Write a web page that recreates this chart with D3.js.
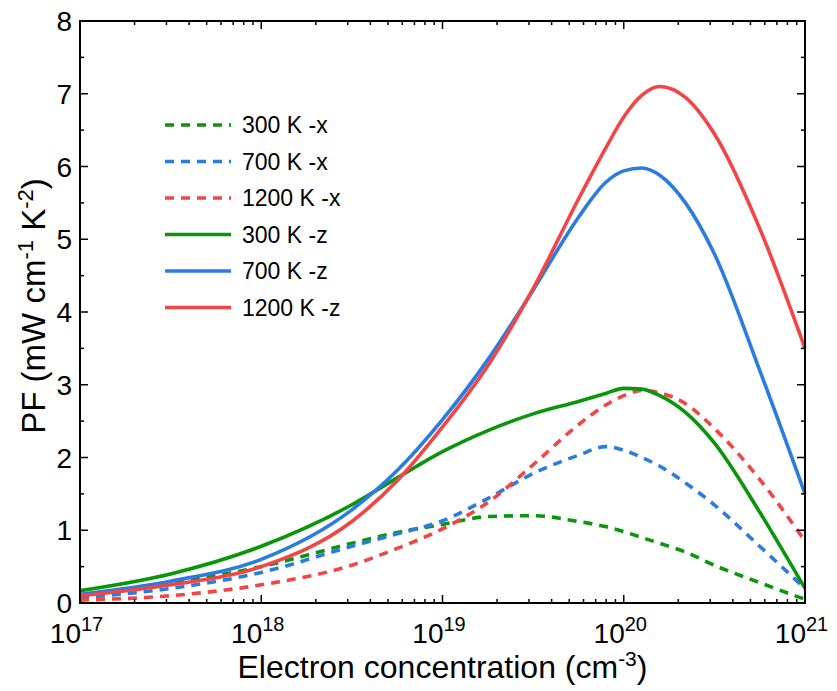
<!DOCTYPE html>
<html>
<head>
<meta charset="utf-8">
<script src="https://cdn.jsdelivr.net/npm/d3@7"></script>
<style>
  body { margin: 0; background: #fff; }
  text { font-family: "Liberation Sans", Arial, sans-serif; fill: #000; }
</style>
</head>
<body>
<div id="chart"></div>
<script>
// electron concentration (cm^-3)
var conc = [1e17, 3.16e17, 1e18, 3.16e18, 5.62e18, 1e19, 1.82e19, 3.16e19, 5.62e19,
            7.94e19, 1e20, 1.26e20, 1.58e20, 2.19e20, 3.16e20, 5.62e20, 1e21];

// PF (mW cm^-1 K^-2)
var pf300x  = [0.10, 0.27, 0.50, 0.82, 0.97, 1.08, 1.19, 1.20, 1.12, 1.05, 0.98, 0.90, 0.82, 0.70, 0.52, 0.28, 0.05];
var pf700x  = [0.07, 0.20, 0.42, 0.78, 0.95, 1.13, 1.45, 1.78, 2.03, 2.15, 2.10, 2.00, 1.88, 1.65, 1.35, 0.78, 0.20];
var pf1200x = [0.04, 0.10, 0.25, 0.52, 0.75, 1.02, 1.40, 1.90, 2.45, 2.72, 2.85, 2.92, 2.89, 2.74, 2.40, 1.70, 0.85];
var pf300z  = [0.17, 0.40, 0.78, 1.35, 1.72, 2.08, 2.38, 2.60, 2.77, 2.88, 2.95, 2.94, 2.85, 2.62, 2.20, 1.25, 0.20];
var pf700z  = [0.12, 0.30, 0.60, 1.28, 1.82, 2.52, 3.38, 4.30, 5.30, 5.78, 5.94, 5.98, 5.88, 5.50, 4.80, 3.20, 1.50];
var pf1200z = [0.10, 0.25, 0.50, 1.12, 1.68, 2.42, 3.30, 4.32, 5.55, 6.25, 6.68, 6.98, 7.10, 6.95, 6.45, 5.15, 3.50];

var seriesNames = ["300 K -x", "700 K -x", "1200 K -x", "300 K -z", "700 K -z", "1200 K -z"];
var seriesValues = [pf300x, pf700x, pf1200x, pf300z, pf700z, pf1200z];
var seriesColors = ["#0a960a", "#2a7ce0", "#f24646", "#0a960a", "#2a7ce0", "#f24646"];
var seriesDashed = [true, true, true, false, false, false];

var xTicks = [1e17, 1e18, 1e19, 1e20, 1e21];
var yTicks = [0, 1, 2, 3, 4, 5, 6, 7, 8];

var width = 837, height = 691;
var margin = { left: 80, right: 32, top: 21, bottom: 88 };

var svg = d3.select("#chart").append("svg")
    .attr("width", width)
    .attr("height", height);

var x = d3.scaleLog().domain([1e17, 1e21]).range([margin.left, width - margin.right]);
var y = d3.scaleLinear().domain([0, 8]).range([height - margin.bottom, margin.top]);

var x0 = x.range()[0], x1 = x.range()[1], y0 = y.range()[0], y1 = y.range()[1];

// curves
var line = d3.line()
    .x(function (d) { return x(d[0]); })
    .y(function (d) { return y(d[1]); })
    .curve(d3.curveMonotoneX);

var plot = svg.append("g");
seriesValues.forEach(function (vals, i) {
    plot.append("path")
        .datum(conc.map(function (c, j) { return [c, vals[j]]; }))
        .attr("fill", "none")
        .attr("stroke", seriesColors[i])
        .attr("stroke-width", 3.6)
        .attr("stroke-dasharray", seriesDashed[i] ? "9,7" : null)
        .attr("d", line);
});

// minor ticks
var xMinor = [];
for (var e = 17; e < 21; e++) {
    for (var k = 2; k <= 9; k++) xMinor.push(k * Math.pow(10, e));
}
var yMinor = d3.range(0.5, 8, 1);

var ticks = svg.append("g").attr("stroke", "#000").attr("stroke-width", 1.5);
xTicks.forEach(function (t) {
    ticks.append("line").attr("x1", x(t)).attr("x2", x(t)).attr("y1", y0).attr("y2", y0 - 8);
    ticks.append("line").attr("x1", x(t)).attr("x2", x(t)).attr("y1", y1).attr("y2", y1 + 8);
});
xMinor.forEach(function (t) {
    ticks.append("line").attr("x1", x(t)).attr("x2", x(t)).attr("y1", y0).attr("y2", y0 - 4);
    ticks.append("line").attr("x1", x(t)).attr("x2", x(t)).attr("y1", y1).attr("y2", y1 + 4);
});
yTicks.forEach(function (t) {
    ticks.append("line").attr("x1", x0).attr("x2", x0 + 8).attr("y1", y(t)).attr("y2", y(t));
    ticks.append("line").attr("x1", x1).attr("x2", x1 - 8).attr("y1", y(t)).attr("y2", y(t));
});
yMinor.forEach(function (t) {
    ticks.append("line").attr("x1", x0).attr("x2", x0 + 4).attr("y1", y(t)).attr("y2", y(t));
    ticks.append("line").attr("x1", x1).attr("x2", x1 - 4).attr("y1", y(t)).attr("y2", y(t));
});

// frame
svg.append("rect")
    .attr("x", x0).attr("y", y1)
    .attr("width", x1 - x0).attr("height", y0 - y1)
    .attr("fill", "none").attr("stroke", "#000").attr("stroke-width", 2);

// y tick labels
svg.append("g").selectAll("text")
    .data(yTicks).enter().append("text")
    .attr("x", x0 - 8)
    .attr("y", function (d) { return y(d); })
    .attr("dy", "0.36em")
    .attr("text-anchor", "end")
    .attr("font-size", 28)
    .text(function (d) { return d; });

// x tick labels: "10" ends at the tick, exponent follows
var xl = svg.append("g").selectAll("g")
    .data(xTicks).enter().append("g")
    .attr("transform", function (d) { return "translate(" + x(d) + "," + (y0 + 40) + ")"; });
xl.append("text")
    .attr("x", 1)
    .attr("text-anchor", "end")
    .attr("font-size", 28)
    .text("10");
xl.append("text")
    .attr("x", 1)
    .attr("y", -12)
    .attr("font-size", 20)
    .text(function (d) { return Math.round(Math.log10(d)); });

// x title
var xt = svg.append("text")
    .attr("x", (x0 + x1) / 2)
    .attr("y", height - 13)
    .attr("text-anchor", "middle")
    .attr("font-size", 32);
xt.append("tspan").text("Electron concentration (cm");
xt.append("tspan").attr("dy", -12).attr("font-size", 21).text("-3");
xt.append("tspan").attr("dy", 12).text(")");

// y title
var yt = svg.append("text")
    .attr("transform", "translate(45," + ((y0 + y1) / 2 - 6) + ") rotate(-90)")
    .attr("text-anchor", "middle")
    .attr("font-size", 33);
yt.append("tspan").text("PF (mW cm");
yt.append("tspan").attr("dy", -12).attr("font-size", 22).text("-1");
yt.append("tspan").attr("dy", 12).text(" K");
yt.append("tspan").attr("dy", -12).attr("font-size", 22).text("-2");
yt.append("tspan").attr("dy", 12).text(")");

// legend
var legend = svg.append("g").attr("transform", "translate(165,125)");
seriesNames.forEach(function (name, i) {
    var g = legend.append("g").attr("transform", "translate(0," + i * 36.5 + ")");
    g.append("line")
        .attr("x1", 0).attr("x2", 66)
        .attr("stroke", seriesColors[i])
        .attr("stroke-width", 3.6)
        .attr("stroke-dasharray", seriesDashed[i] ? "9,7" : null);
    g.append("text")
        .attr("x", 77)
        .attr("dy", "0.36em")
        .attr("font-size", 23)
        .text(name);
});
</script>
</body>
</html>
